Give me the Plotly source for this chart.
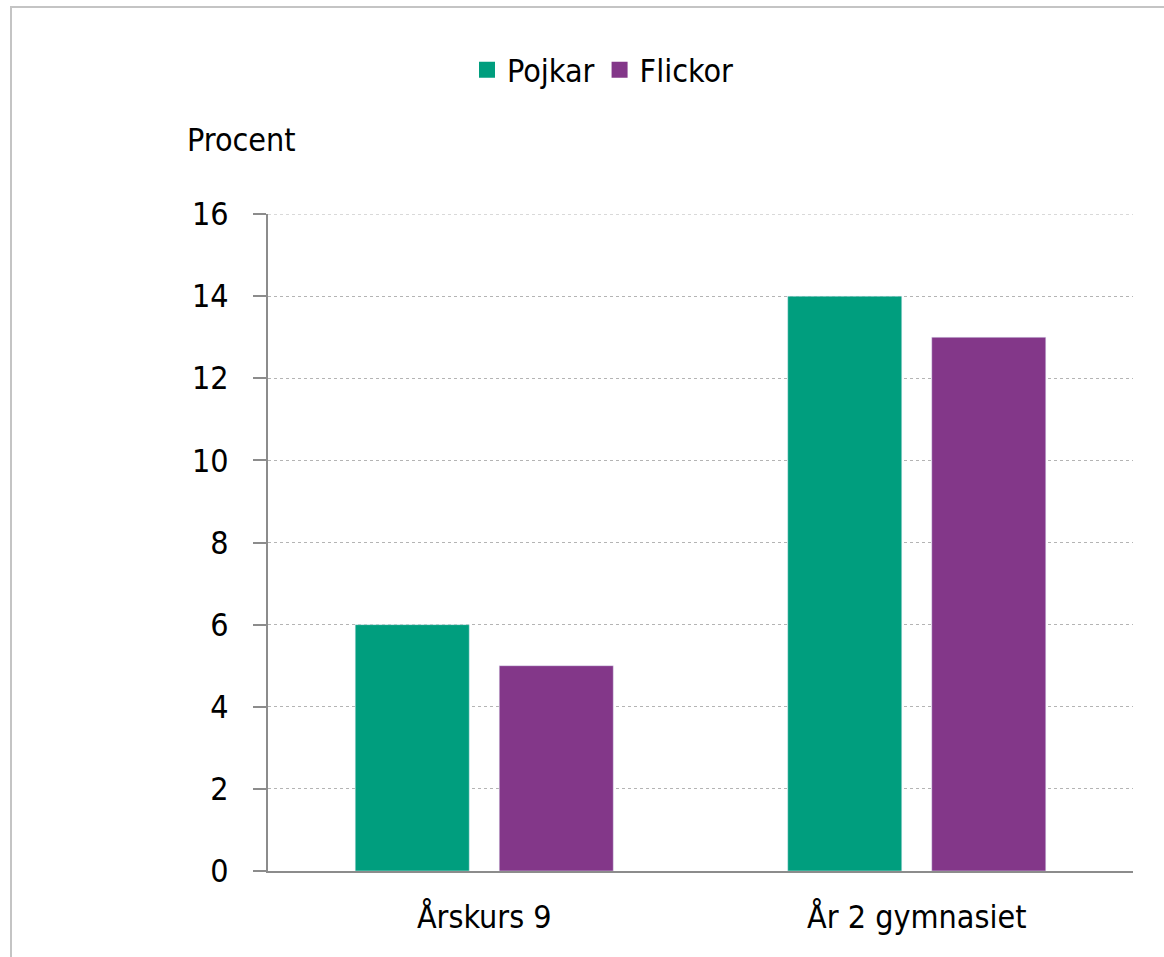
import plotly.graph_objects as go

# Andel i procent per årskurs och kön
categories = ["Årskurs 9", "År 2 gymnasiet"]
series_names = ["Pojkar", "Flickor"]
pojkar = [6, 14]
flickor = [5, 13]
y_ticks = [0, 2, 4, 6, 8, 10, 12, 14, 16]

FONT = "DejaVu Sans Condensed, DejaVu Sans, sans-serif"
GREEN = "#009E7E"
PURPLE = "#833789"

W, H = 1164, 957
L, R, T, B = 268, 31, 214, 86
pw, ph = W - L - R, H - T - B


def px_x(x):
    return (x - L) / pw


def px_y(y):
    return 1 + (T - y) / ph


fig = go.Figure()
for name, vals, col in zip(series_names, [pojkar, flickor], [GREEN, PURPLE]):
    fig.add_trace(go.Bar(name=name, x=categories, y=vals, marker_color=col,
                         showlegend=False))
# Legend entries with larger square swatches
for name, col in zip(series_names, [GREEN, PURPLE]):
    fig.add_trace(go.Scatter(name=name, x=[None], y=[None], mode="markers",
                             marker=dict(symbol="square", size=18, color=col),
                             showlegend=True))

fig.update_layout(
    width=W,
    height=H,
    margin=dict(l=L, r=R, t=T, b=B),
    paper_bgcolor="white",
    plot_bgcolor="white",
    barmode="group",
    bargap=0.334,
    bargroupgap=0.208,
    font=dict(family=FONT, size=32, color="#000000"),
    legend=dict(
        orientation="h",
        x=px_x(603),
        xanchor="center",
        y=px_y(70),
        yanchor="middle",
        font=dict(family=FONT, size=32),
        itemwidth=30,
        tracegroupgap=0,
    ),
    xaxis=dict(
        type="category",
        showline=True,
        linecolor="#8c8c8c",
        linewidth=2,
        ticks="",
        showgrid=False,
        ticklabelstandoff=17,
        tickfont=dict(family=FONT, size=32),
    ),
    yaxis=dict(
        range=[0, 16],
        tickvals=y_ticks,
        showline=True,
        linecolor="#8c8c8c",
        linewidth=2,
        ticks="outside",
        ticklen=13,
        tickwidth=2,
        tickcolor="#8c8c8c",
        showgrid=True,
        gridcolor="#b4b4b4",
        gridwidth=1,
        griddash="dot",
        zeroline=False,
        ticklabelstandoff=18,
        tickfont=dict(family=FONT, size=32),
    ),
    annotations=[
        dict(
            text="Procent",
            xref="paper",
            yref="paper",
            x=px_x(185),
            y=px_y(140),
            xanchor="left",
            yanchor="middle",
            showarrow=False,
            font=dict(family=FONT, size=32),
        )
    ],
    shapes=[
        dict(
            type="rect",
            xref="paper",
            yref="paper",
            x0=px_x(11),
            x1=px_x(1200),
            y0=px_y(1000),
            y1=px_y(7),
            line=dict(color="#c4c4c4", width=2),
            fillcolor="rgba(0,0,0,0)",
            layer="below",
        ),
        # gridline at the top of the value axis
        dict(
            type="line",
            xref="paper",
            yref="y",
            x0=0,
            x1=1,
            y0=y_ticks[-1],
            y1=y_ticks[-1],
            line=dict(color="#b4b4b4", width=1, dash="dot"),
            layer="below",
        ),
    ],
)

fig.write_html("out.html")
